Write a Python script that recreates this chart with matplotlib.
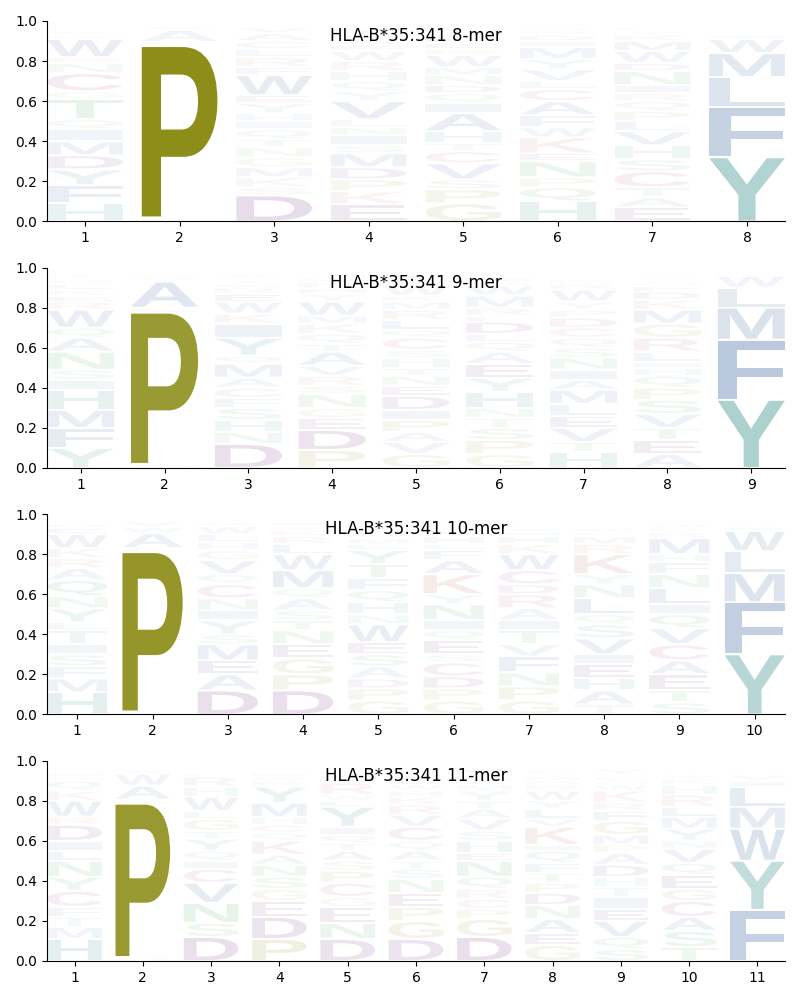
#!/usr/bin/env python
"""Peptide binding motif logos for one HLA allele, 8- to 11-mers."""
import matplotlib
matplotlib.use("Agg")
import matplotlib.pyplot as plt
from matplotlib.textpath import TextPath
from matplotlib.patches import PathPatch
from matplotlib.font_manager import FontProperties
from matplotlib.transforms import Affine2D

ALLELE = "HLA-B*35:341"
LENGTHS = [8, 9, 10, 11]

# residues per position, bottom to top, and their frequencies
letters_8 = ["HFYDMIQTGCNRWKSEA", "SPLAVT", "DSKMGNTQIHYEWFRLCAV",
             "EKPDMSINLVYQHRWFAGTC", "GPSVCTHAIQDNMWREFKYL",
             "HQPNEKWFACLVYMIDRST", "EATCSHVLPQRINDWMKYFG", "YFLMWIVAH"]
heights_8 = [
    [.09, .09, .08, .07, .07, .06, .05, .10, .04, .09, .05, .03, .09, .02, .02, .01, .01],
    [.02, .855, .02, .06, .02, .01],
    [.13, .04, .05, .05, .05, .05, .04, .05, .04, .04, .05, .04, .10, .04, .05, .04, .04, .04, .03],
    [.085, .065, .06, .06, .07, .04, .05, .04, .04, .09, .05, .05, .05, .05, .05, .03, .03, .02, .03, .01],
    [.09, .07, .05, .08, .06, .04, .06, .09, .05, .05, .04, .05, .04, .06, .03, .03, .03, .02, .02, .01],
    [.10, .07, .05, .08, .04, .08, .05, .06, .07, .06, .04, .06, .05, .06, .03, .03, .02, .02, .01],
    [.07, .05, .05, .08, .06, .07, .07, .05, .05, .05, .04, .04, .07, .04, .06, .05, .03, .02, .02, .01],
    [.32, .25, .15, .12, .07, .02, .015, .01, .01],
]

letters_9 = ["YFMHISNAQWREKLDCT", "SPLAVG", "DNHSFCAMQYIKWERLTGV",
             "PDEGNSRVATQKMWYHFLCI", "GVAPIDENTHSCQLRMKWFY",
             "GPSTNHYEAQLDFRMWKICV", "HTVELMAINSQCDPYWRKFG",
             "AETVSPQHILRGMKDFNYWC", "YFMLWIV"]
heights_9 = [
    [.10, .10, .09, .10, .05, .05, .09, .07, .05, .09, .04, .03, .03, .03, .02, .01, .02],
    [.02, .755, .025, .13, .02, .015],
    [.12, .06, .06, .06, .05, .05, .05, .07, .04, .09, .07, .05, .06, .04, .03, .02, .02, .01, .02],
    [.09, .10, .06, .05, .07, .04, .05, .05, .07, .04, .05, .05, .04, .07, .04, .03, .03, .02, .01, .01],
    [.07, .06, .05, .06, .05, .07, .05, .05, .04, .05, .04, .06, .04, .05, .05, .04, .03, .05, .03, .03],
    [.07, .07, .06, .05, .05, .08, .07, .07, .06, .05, .04, .06, .03, .04, .06, .05, .02, .02, .01, .01],
    [.08, .05, .07, .06, .06, .07, .05, .05, .06, .05, .05, .05, .05, .04, .04, .06, .03, .02, .01, .01],
    [.07, .07, .06, .07, .07, .06, .06, .04, .03, .05, .07, .07, .07, .05, .04, .03, .02, .02, .01, .01],
    [.34, .30, .16, .10, .06, .01, .01],
]

letters_10 = ["HMFSITLYNQARKWEDGC", "SPLAWVT", "DAEMSYINCQVGHLWRFK",
              "DPGENTSAQMWLRKYIHF", "GPDASEWNHQFTYLMRKVCI",
              "GPDCSEQINYKAFLHMRWT", "GPNFVTIARDCWKHMYLE",
              "TAHEIVSQLNYKRMFWDC", "STEACVQILNFHMRKWY", "YFMLWIVAH"]
heights_10 = [
    [.11, .07, .06, .06, .05, .07, .04, .07, .06, .08, .06, .05, .05, .07, .03, .02, .01, .01],
    [.015, .795, .02, .075, .03, .03, .01],
    [.12, .08, .07, .08, .05, .07, .05, .06, .07, .05, .07, .05, .04, .04, .04, .02, .01, .01],
    [.12, .08, .08, .07, .07, .05, .05, .06, .05, .09, .08, .05, .04, .03, .02, .02, .01, .01],
    [.07, .06, .05, .06, .06, .06, .09, .05, .06, .06, .06, .07, .07, .03, .03, .02, .02, .01, .01, .02],
    [.07, .06, .06, .07, .04, .07, .05, .05, .08, .05, .10, .07, .05, .03, .04, .03, .02, .01, .01],
    [.07, .07, .07, .08, .06, .07, .05, .06, .07, .05, .07, .08, .05, .04, .02, .02, .02, .01],
    [.05, .07, .06, .07, .05, .08, .07, .05, .08, .07, .05, .10, .05, .04, .02, .02, .01, .01],
    [.06, .06, .08, .07, .08, .08, .07, .05, .08, .07, .06, .04, .08, .03, .02, .02, .01],
    [.30, .26, .145, .11, .10, .02, .015, .01, .01],
]

letters_11 = ["HMTFCYNLIDRWKQSEA", "SPLAWVTG", "DSNVCIQYTGLWHRFMK",
              "PDEGSNAKQCHMYRWLIF", "DNEGCPSATQIYLWRKHFM",
              "DGPENSTAQCVRKHWLMYFI", "DGPCRQNEHSVATYMWLKFI",
              "GEANDPTFQIKVLYWRHMSC", "SQVEITHDAPMGFRKWNLCY",
              "TSACGEQVNYMLRHKWDF", "FYWMLIVAH"]
heights_11 = [
    [.11, .06, .05, .05, .08, .07, .08, .05, .05, .08, .04, .08, .05, .05, .02, .02, .01],
    [.02, .765, .02, .07, .06, .02, .01, .01],
    [.12, .07, .10, .10, .07, .04, .05, .06, .04, .06, .04, .07, .05, .05, .02, .01, .01],
    [.11, .11, .08, .06, .06, .06, .05, .07, .04, .04, .04, .07, .08, .03, .02, .02, .01, .01],
    [.11, .08, .08, .05, .07, .06, .05, .05, .04, .04, .04, .10, .03, .03, .06, .02, .02, .02, .01],
    [.11, .09, .07, .07, .07, .05, .04, .05, .05, .07, .06, .05, .04, .03, .03, .03, .02, .02, .01, .01],
    [.12, .09, .05, .05, .05, .06, .08, .04, .06, .05, .06, .05, .04, .05, .03, .02, .02, .01, .01, .02],
    [.08, .06, .07, .07, .06, .05, .05, .05, .06, .03, .09, .04, .05, .04, .05, .03, .02, .02, .01, .02],
    [.06, .06, .08, .06, .06, .05, .05, .06, .06, .04, .05, .07, .05, .04, .06, .03, .02, .02, .01, .03],
    [.07, .08, .07, .08, .06, .07, .06, .07, .04, .06, .06, .05, .06, .05, .03, .02, .01, .01],
    [.255, .245, .16, .11, .10, .03, .03, .01, .01],
]

LETTERS = [letters_8, letters_9, letters_10, letters_11]
HEIGHTS = [heights_8, heights_9, heights_10, heights_11]

# residue colours, faded by frequency when drawn
BLUE = "#245494"
COLORS = {
    "A": BLUE, "V": BLUE, "I": BLUE, "L": BLUE, "M": BLUE, "F": BLUE, "W": BLUE,
    "P": "#808000", "G": "#8a8a20",
    "Y": "#1a7f79", "H": "#1a7f79",
    "D": "#570e66", "E": "#570e66", "C": "#a0306a",
    "K": "#b85050", "R": "#b85050",
    "N": "#2a9a3a", "Q": "#2a9a3a", "S": "#2a9a3a", "T": "#2a9a3a",
}

FONT = FontProperties(family="Liberation Sans", weight="bold")
COL_WIDTH = 0.8
VPAD = 0.005
_glyphs = {}


def draw_letter(ax, c, x, y, h, alpha):
    """Stretch glyph c to fill the box centred on x from y to y+h."""
    if c not in _glyphs:
        p = TextPath((0, 0), c, size=1, prop=FONT)
        _glyphs[c] = (p, p.get_extents())
    path, ext = _glyphs[c]
    t = Affine2D().translate(-ext.x0, -ext.y0) \
        .scale(COL_WIDTH / ext.width, h / ext.height) \
        .translate(x - COL_WIDTH / 2, y)
    ax.add_patch(PathPatch(t.transform_path(path), facecolor=COLORS[c],
                           edgecolor="none", lw=0, alpha=alpha))


fig, axes = plt.subplots(4, 1, figsize=(8, 10), dpi=100)
fig.subplots_adjust(left=0.059, right=0.981, top=0.979, bottom=0.039, hspace=0.23)

for ax, n, letters, heights in zip(axes, LENGTHS, LETTERS, HEIGHTS):
    for pos, (col, hs) in enumerate(zip(letters, heights), start=1):
        y = 0.0
        for c, h in zip(col, hs):
            if h > 2 * VPAD:
                draw_letter(ax, c, pos, y + VPAD, h - 2 * VPAD, min(1.0, 1.05 * h))
            y += h
    ax.set_xlim(0.6, n + 0.4)
    ax.set_ylim(0, 1)
    ax.set_xticks(range(1, n + 1))
    ax.set_yticks([0, 0.2, 0.4, 0.6, 0.8, 1.0])
    ax.spines["top"].set_visible(False)
    ax.spines["right"].set_visible(False)
    ax.text(0.5, 0.925, "%s %d-mer" % (ALLELE, n), transform=ax.transAxes,
            ha="center", va="center", fontsize=12)

fig.savefig("out.png")
